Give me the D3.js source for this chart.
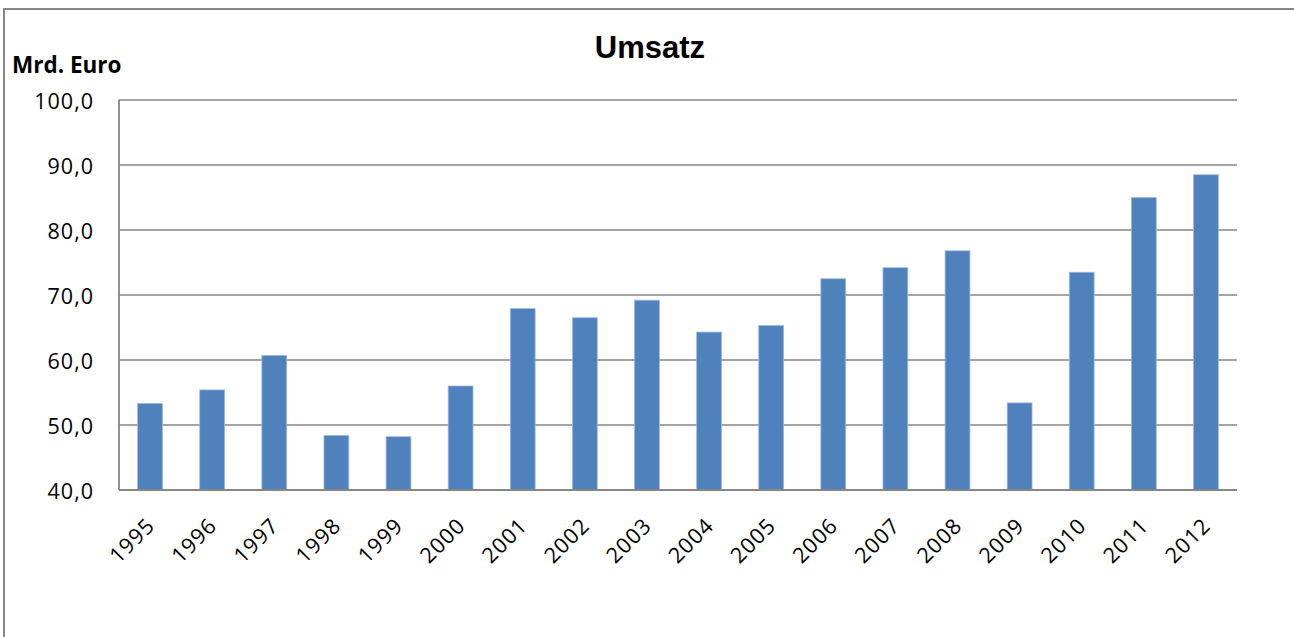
<!DOCTYPE html>
<html>
<head>
<meta charset="utf-8">
<script src="https://cdn.jsdelivr.net/npm/d3@7"></script>
<style>
  body { margin: 0; background: #fff; }
</style>
</head>
<body>
<div id="chart"></div>
<script>
// -------------------- DATA --------------------
const years = ["1995", "1996", "1997", "1998", "1999", "2000", "2001", "2002", "2003",
               "2004", "2005", "2006", "2007", "2008", "2009", "2010", "2011", "2012"];
const umsatz = [53.3, 55.4, 60.7, 48.4, 48.2, 56.0, 67.9, 66.5, 69.2,
                64.3, 65.3, 72.5, 74.2, 76.8, 53.4, 73.5, 85.0, 88.5];
const yTicks = [40, 50, 60, 70, 80, 90, 100];

// -------------------- CHART --------------------
let width = 1294, height = 637;
let margin = ({ top: 100, right: 57, bottom: 147, left: 119 });
let gridColor = "#868686";
let fontFamily = "'Open Sans', sans-serif";

const svg = d3.select("#chart")
    .append("svg")
    .attr("width", width)
    .attr("height", height);

// outer chart border
svg.append("rect")
    .attr("x", 4).attr("y", 9)
    .attr("width", 1300).attr("height", 700)
    .attr("fill", "none")
    .attr("stroke", gridColor)
    .attr("stroke-width", 2);

let x = d3.scaleBand()
    .domain(years)
    .range([margin.left, width - margin.right])
    .paddingInner(0.6)
    .paddingOuter(0.3);

let y = d3.scaleLinear()
    .domain([40, 100])
    .range([height - margin.bottom, margin.top]);

// gridlines
svg.append("g")
    .selectAll("line")
    .data(yTicks.slice(1))
    .join("line")
    .attr("x1", margin.left)
    .attr("x2", width - margin.right)
    .attr("y1", d => y(d))
    .attr("y2", d => y(d))
    .attr("stroke", gridColor)
    .attr("stroke-width", 1.4);

// bars
svg.append("g")
    .selectAll("rect")
    .data(umsatz)
    .join("rect")
    .attr("fill", "#4f81bd")
    .attr("stroke", "#9dbbe0")
    .attr("stroke-width", 0.8)
    .attr("x", (d, i) => x(years[i]))
    .attr("y", d => y(d))
    .attr("width", x.bandwidth())
    .attr("height", d => y(40) - y(d));

// axes lines
svg.append("line")
    .attr("x1", margin.left).attr("x2", margin.left)
    .attr("y1", y(100)).attr("y2", y(40))
    .attr("stroke", gridColor).attr("stroke-width", 1.8);
svg.append("line")
    .attr("x1", margin.left).attr("x2", width - margin.right)
    .attr("y1", y(40)).attr("y2", y(40))
    .attr("stroke", gridColor).attr("stroke-width", 2);

// y tick labels
let fmt = d => d3.format(".1f")(d).replace(".", ",");
svg.append("g")
    .attr("font-family", fontFamily)
    .attr("font-size", 21.5)
    .attr("letter-spacing", 1)
    .attr("text-anchor", "end")
    .selectAll("text")
    .data(yTicks)
    .join("text")
    .attr("x", margin.left - 25)
    .attr("y", d => y(d))
    .attr("dy", "0.4em")
    .text(fmt);

// x tick labels, rotated
svg.append("g")
    .attr("font-family", fontFamily)
    .attr("font-size", 21.5)
    .attr("letter-spacing", 1)
    .attr("text-anchor", "end")
    .selectAll("text")
    .data(years)
    .join("text")
    .attr("transform", d => `translate(${x(d) + x.bandwidth() / 2 + 6},${y(40) + 37}) rotate(-45)`)
    .text(d => d);

// title
svg.append("text")
    .attr("x", 650).attr("y", 58)
    .attr("text-anchor", "middle")
    .attr("font-family", "'Liberation Sans', Arial, sans-serif")
    .attr("font-weight", "bold")
    .attr("font-size", 31)
    .text("Umsatz");

// unit label
svg.append("text")
    .attr("x", 12).attr("y", 72.5)
    .attr("font-family", fontFamily)
    .attr("font-weight", "bold")
    .attr("font-size", 22.5)
    .text("Mrd. Euro");
</script>
</body>
</html>
